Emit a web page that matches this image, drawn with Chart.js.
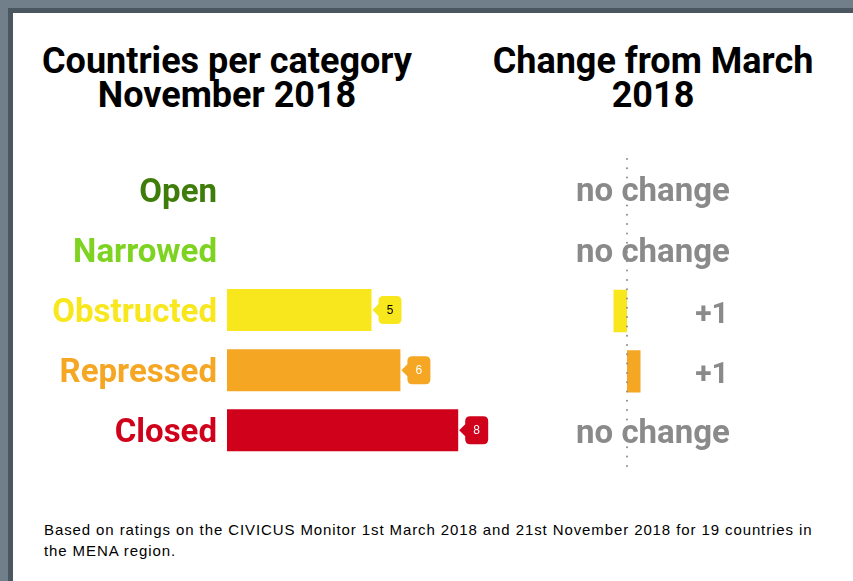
<!DOCTYPE html>
<html>
<head>
<meta charset="utf-8">
<script src="https://cdn.jsdelivr.net/npm/chart.js@4.4.1/dist/chart.umd.min.js"></script>
<style>
  html, body { margin: 0; padding: 0; }
  body { width: 853px; height: 581px; position: relative; overflow: hidden; background: #707f89; }
  #frame { position: absolute; left: 8px; top: 8px; right: 0; bottom: 0; background: #4a5761; }
  #panel { position: absolute; left: 13px; top: 13px; right: 0; bottom: 0; background: #fff; }
  .title { position: absolute; font-family: Roboto, sans-serif; font-weight: 700; font-size: 36px;
           line-height: 34px; color: #000; text-align: center; white-space: nowrap; }
  #title-left { left: 27px; width: 400px; top: 44px; }
  #title-right { left: 453px; width: 400px; top: 44px; }
  #note { position: absolute; left: 44px; top: 519px; font-family: "Liberation Sans", Arial, sans-serif;
          font-size: 15px; line-height: 21px; letter-spacing: 0.9px; color: #000; white-space: nowrap; }
  #wrap-left { position: absolute; left: 13px; top: 130px; width: 520px; height: 360px; }
  #wrap-right { position: absolute; left: 540px; top: 130px; width: 260px; height: 360px; }
</style>
</head>
<body>
<div id="frame"></div>
<div id="panel"></div>
<div class="title" id="title-left">Countries per category<br>November 2018</div>
<div class="title" id="title-right">Change from March<br>2018</div>
<div id="wrap-left"><canvas id="countsChart"></canvas></div>
<div id="wrap-right"><canvas id="changeChart"></canvas></div>
<div id="note">Based on ratings on the CIVICUS Monitor 1st March 2018 and 21st November 2018 for 19 countries in<br>the MENA region.</div>

<script>
const categories = ['Open', 'Narrowed', 'Obstructed', 'Repressed', 'Closed'];
const categoryColors = ['#3f7d0b', '#7ed321', '#f8e71c', '#f5a623', '#d0021b'];
const countries = [0, 0, 5, 6, 8];
const changeBars = [0, 0, -1, 1, 0];
const changeLabels = ['no change', 'no change', '+1', '+1', 'no change'];
const calloutTextColors = ['#000', '#000', '#000', '#fff', '#fff'];

const labelFont = { family: 'Roboto', weight: '700', size: 33 };

// little flag-shaped boxes at the end of each bar
const calloutPlugin = {
    id: 'callouts',
    afterDatasetsDraw(chart) {
        const ctx = chart.ctx;
        const meta = chart.getDatasetMeta(0);
        ctx.save();
        meta.data.forEach((bar, i) => {
            if (!countries[i]) return;
            const tip = bar.x + 1;
            const y = bar.y;
            const x0 = tip + 6, x1 = tip + 29, h = 28, r = 5;
            ctx.fillStyle = categoryColors[i];
            ctx.beginPath();
            ctx.moveTo(tip, y);
            ctx.lineTo(x0, y - 6);
            ctx.lineTo(x0, y - h / 2 + r);
            ctx.quadraticCurveTo(x0, y - h / 2, x0 + r, y - h / 2);
            ctx.lineTo(x1 - r, y - h / 2);
            ctx.quadraticCurveTo(x1, y - h / 2, x1, y - h / 2 + r);
            ctx.lineTo(x1, y + h / 2 - r);
            ctx.quadraticCurveTo(x1, y + h / 2, x1 - r, y + h / 2);
            ctx.lineTo(x0 + r, y + h / 2);
            ctx.quadraticCurveTo(x0, y + h / 2, x0, y + h / 2 - r);
            ctx.lineTo(x0, y + 6);
            ctx.closePath();
            ctx.fill();
            ctx.fillStyle = calloutTextColors[i];
            ctx.font = '12px "Liberation Sans", Arial, sans-serif';
            ctx.textAlign = 'center';
            ctx.textBaseline = 'middle';
            ctx.fillText(String(countries[i]), (x0 + x1) / 2, y + 1);
        });
        ctx.restore();
    }
};

// dotted zero line and the change texts
const changePlugin = {
    id: 'changeDecor',
    afterDatasetsDraw(chart) {
        const ctx = chart.ctx;
        const xs = chart.scales.x;
        const ys = chart.scales.y;
        const zero = xs.getPixelForValue(0);
        ctx.save();
        ctx.fillStyle = '#8c8c8c';
        for (let y = chart.chartArea.top - 1; y <= chart.chartArea.bottom + 9; y += 9.3) {
            ctx.beginPath();
            ctx.arc(zero, y, 1, 0, Math.PI * 2);
            ctx.fill();
        }
        ctx.fillStyle = '#8a8a8a';
        ctx.textAlign = 'center';
        ctx.textBaseline = 'middle';
        changeLabels.forEach((txt, i) => {
            const y = ys.getPixelForValue(i);
            if (txt === 'no change') {
                ctx.font = '700 33px Roboto';
                ctx.fillText(txt, zero + 26, y + 3);
            } else {
                ctx.font = '700 30px Roboto';
                ctx.fillText(txt, zero + 85, y + 4);
            }
        });
        ctx.restore();
    }
};

function initCharts() {
    new Chart(document.getElementById('countsChart').getContext('2d'), {
        type: 'bar',
        data: {
            labels: categories,
            datasets: [{
                data: countries,
                backgroundColor: categoryColors,
                borderWidth: 0,
                barPercentage: 0.7,
                categoryPercentage: 1
            }]
        },
        options: {
            indexAxis: 'y',
            responsive: true,
            maintainAspectRatio: false,
            animation: false,
            layout: { padding: { top: 30, bottom: 28, left: 0, right: 17 } },
            scales: {
                x: { display: false, min: 0, max: 10 },
                y: {
                    grid: { display: false, drawTicks: false },
                    border: { display: false },
                    afterFit: (scale) => { scale.width = 214; },
                    ticks: {
                        padding: 10,
                        labelOffset: 4,
                        font: labelFont,
                        color: (c) => categoryColors[c.index]
                    }
                }
            },
            plugins: { legend: { display: false }, tooltip: { enabled: false } }
        },
        plugins: [calloutPlugin]
    });

    new Chart(document.getElementById('changeChart').getContext('2d'), {
        type: 'bar',
        data: {
            labels: categories,
            datasets: [{
                data: changeBars,
                backgroundColor: categoryColors,
                borderWidth: 0,
                barPercentage: 0.7,
                categoryPercentage: 1
            }]
        },
        options: {
            indexAxis: 'y',
            responsive: true,
            maintainAspectRatio: false,
            animation: false,
            layout: { padding: { top: 30, bottom: 28, left: 19.5, right: 38 } },
            scales: {
                x: { display: false, min: -5, max: 10 },
                y: { display: false }
            },
            plugins: { legend: { display: false }, tooltip: { enabled: false } }
        },
        plugins: [changePlugin]
    });
}

document.addEventListener('DOMContentLoaded', initCharts);
</script>
</body>
</html>
